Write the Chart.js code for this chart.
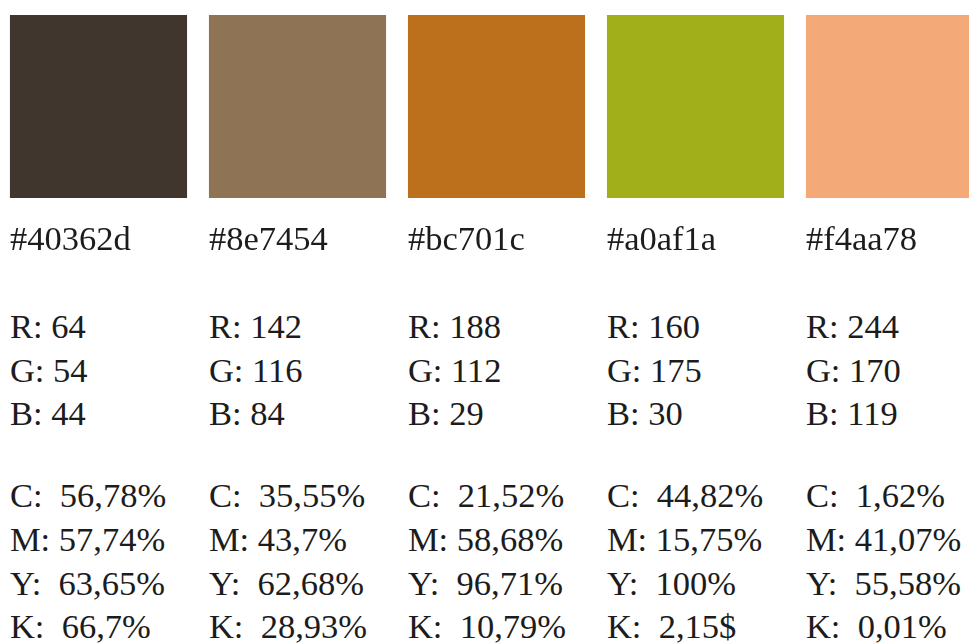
<!DOCTYPE html>
<html>
<head>
<meta charset="utf-8">
<script src="https://cdn.jsdelivr.net/npm/chart.js@4/dist/chart.umd.min.js"></script>
<style>
  html, body { margin: 0; padding: 0; background: #ffffff; width: 969px; height: 644px; overflow: hidden; }
  #wrap { position: absolute; left: -1px; top: 0; width: 995px; height: 220px; }
  .t { position: absolute; white-space: pre; line-height: 1; color: #1c1c1c; font-size: 34.5px;
       font-family: 'Liberation Serif', 'Times New Roman', serif; }
</style>
</head>
<body>
<div id="wrap"><canvas id="c"></canvas></div>
<div id="texts"></div>
<script>
const hexCodes = ['#40362d', '#8e7454', '#bc701c', '#a0af1a', '#f4aa78'];
const rValues = [64, 142, 188, 160, 244];
const gValues = [54, 116, 112, 175, 170];
const bValues = [44, 84, 29, 30, 119];
const cValues = [' 56,78%', ' 35,55%', ' 21,52%', ' 44,82%', ' 1,62%'];
const mValues = ['57,74%', '43,7%', '58,68%', '15,75%', '41,07%'];
const yValues = [' 63,65%', ' 62,68%', ' 96,71%', ' 100%', ' 55,58%'];
const kValues = [' 66,7%', ' 28,93%', ' 10,79%', ' 2,15$', ' 0,01%'];
const swatchSpan = [[0, 1], [0, 1], [0, 1], [0, 1], [0, 1]];

const chart = new Chart(document.getElementById('c'), {
  type: 'bar',
  data: {
    labels: hexCodes,
    datasets: [{
      data: swatchSpan,
      backgroundColor: hexCodes,
      borderWidth: 0,
      borderSkipped: false,
      barPercentage: 0.89,
      categoryPercentage: 1.0
    }]
  },
  options: {
    responsive: true,
    maintainAspectRatio: false,
    animation: false,
    layout: { padding: { top: 15, bottom: 22, left: 0, right: 0 } },
    plugins: { legend: { display: false }, tooltip: { enabled: false } },
    scales: {
      x: { display: false, offset: true },
      y: { display: false, min: 0, max: 1 }
    }
  }
});

const rows = [
  { base: 250, vals: hexCodes.map(h => h) },
  { base: 338, vals: rValues.map(v => 'R: ' + v) },
  { base: 382, vals: gValues.map(v => 'G: ' + v) },
  { base: 425, vals: bValues.map(v => 'B: ' + v) },
  { base: 507, vals: cValues.map(v => 'C: ' + v) },
  { base: 551, vals: mValues.map(v => 'M: ' + v) },
  { base: 595, vals: yValues.map(v => 'Y: ' + v) },
  { base: 638, vals: kValues.map(v => 'K: ' + v) }
];

const meta = chart.getDatasetMeta(0);
const host = document.getElementById('texts');
const ascent = 28.9;
rows.forEach(row => {
  row.vals.forEach((txt, i) => {
    const bar = meta.data[i];
    const d = document.createElement('div');
    d.className = 't';
    d.textContent = txt;
    d.style.left = (bar.x - bar.width / 2 - 1) + 'px';
    d.style.top = (row.base - ascent) + 'px';
    host.appendChild(d);
  });
});
</script>
</body>
</html>
